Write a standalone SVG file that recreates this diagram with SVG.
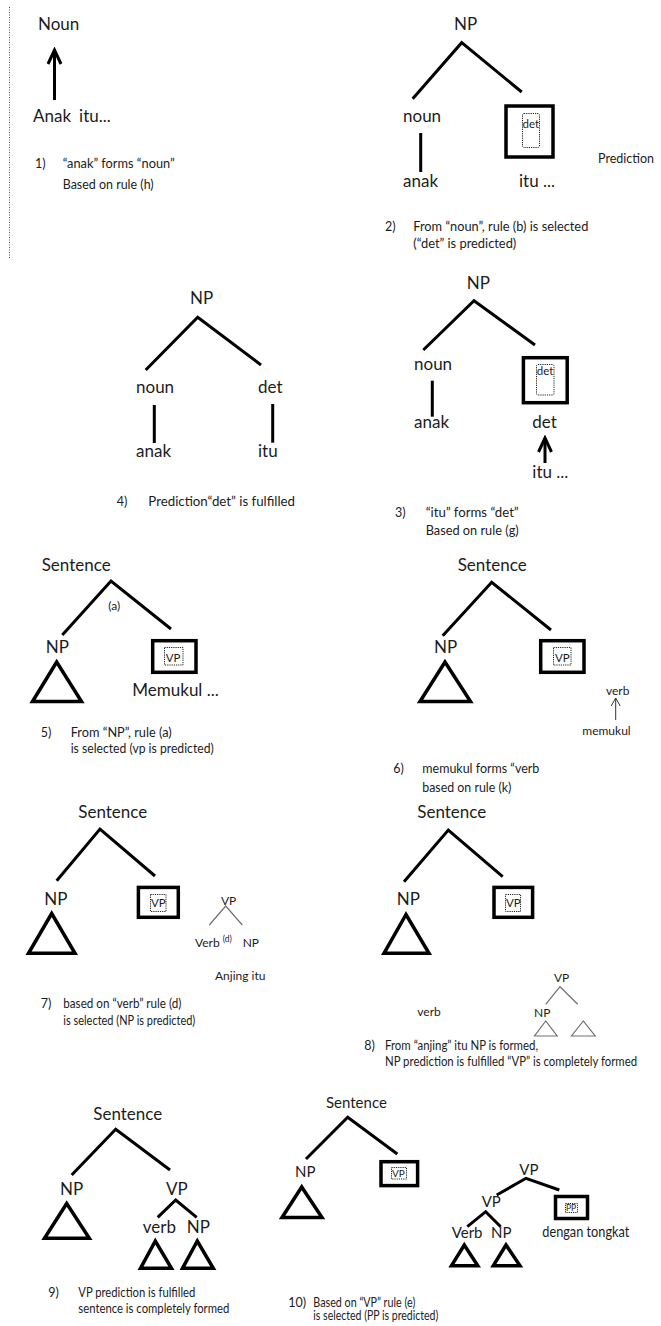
<svg xmlns="http://www.w3.org/2000/svg" width="661" height="1326" viewBox="0 0 661 1326">
  <style>
    text { font-family: Lato, "Open Sans", sans-serif; fill: #1c1c1c; }
    .t { font-size: 17px; }
    .m { font-size: 15px; }
    .s { font-size: 12px; }
    .c { font-size: 12.5px; }
    .in { font-size: 11.5px; }
    .br { fill: none; stroke: #000; stroke-width: 3; stroke-linejoin: miter; }
    .stem { fill: none; stroke: #000; stroke-width: 3; }
    .tri { fill: none; stroke: #000; stroke-width: 3.5; stroke-linejoin: miter; }
    .box { fill: #fff; stroke: #000; stroke-width: 3.5; }
    .dot { fill: none; stroke: #222; stroke-width: 1; stroke-dasharray: 1.2 1; }
    .thin { fill: none; stroke: #707070; stroke-width: 1.2; }
    .arrow { fill: none; stroke: #000; stroke-width: 3; marker-end: url(#head); }
    .arrow-s { fill: none; stroke: #333; stroke-width: 1; marker-end: url(#head-s); }
  </style>
  <defs>
    <marker id="head" markerUnits="userSpaceOnUse" viewBox="-17 -9 20 18" refX="0" refY="0" markerWidth="20" markerHeight="18" orient="auto">
      <path d="M-14,-6.5 L0,0 L-14,6.5" fill="none" stroke="#000" stroke-width="3"/>
    </marker>
    <marker id="head-s" markerUnits="userSpaceOnUse" viewBox="-10 -6 12 12" refX="0" refY="0" markerWidth="12" markerHeight="12" orient="auto">
      <path d="M-8,-4.5 L0,0 L-8,4.5" fill="none" stroke="#333" stroke-width="1"/>
    </marker>
  </defs>
  <rect width="661" height="1326" fill="#fff"/>

  <!-- page margin guide -->
  <line x1="9.5" y1="7" x2="9.5" y2="259" stroke="#555" stroke-width="1" stroke-dasharray="1 1.5"/>

  <!-- connectors: tree branches, stems and arrows -->
  <g id="connectors">
    <!-- step 1 -->
    <line class="arrow" x1="54.5" y1="100" x2="54.5" y2="50"/>
    <!-- step 2 -->
    <path class="br" d="M412.7,98.7 L461.7,42.7 L521.7,92"/>
    <line class="stem" x1="420.7" y1="133" x2="420.7" y2="172"/>
    <!-- step 4 -->
    <path class="br" d="M145.7,370 L197.7,317.3 L261,365"/>
    <line class="stem" x1="154.3" y1="405" x2="154.3" y2="443"/>
    <line class="stem" x1="272.7" y1="404" x2="272.7" y2="442.7"/>
    <!-- step 3 -->
    <path class="br" d="M423.3,350 L474,300.7 L535,345"/>
    <line class="stem" x1="432.3" y1="380.7" x2="432.3" y2="416.7"/>
    <line class="arrow" x1="545" y1="463" x2="545" y2="438"/>
    <!-- step 5 -->
    <path class="br" d="M62.3,635 L111,581 L171,629"/>
    <!-- step 6 -->
    <path class="br" d="M442.7,635.7 L491.7,582.3 L551,630"/>
    <line class="arrow-s" x1="615.7" y1="720" x2="615.7" y2="698"/>
    <!-- step 7 -->
    <path class="br" d="M56.7,880.7 L100,829 L155,876"/>
    <path class="thin" d="M209.3,925 L225.7,906 L242.3,925"/>
    <!-- step 8 -->
    <path class="br" d="M404,881.7 L448.3,830 L502.7,876.7"/>
    <path class="thin" d="M545.7,1004.3 L560,986.7 L577.7,1004.3"/>
    <!-- step 9 -->
    <path class="br" d="M71.7,1175 L115.7,1129.3 L170,1170"/>
    <path class="br" d="M157.7,1217.3 L175.7,1200 L196.7,1217.3"/>
    <!-- step 10 -->
    <path class="br" d="M306,1159 L347.7,1117.3 L397.3,1154"/>
    <path class="br" d="M496.7,1195 L526,1178.3 L559.3,1190"/>
    <path class="br" d="M467.3,1226.7 L485.7,1211.7 L500.7,1226.7"/>
  </g>

  <!-- step 1: word forms noun -->
  <g id="step1">
    <text class="t" x="38" y="30">Noun</text>
    <text class="t" x="33" y="122">Anak<tspan dx="8">itu...</tspan></text>
    <text class="c" x="35" y="168">1)</text>
    <text class="c" x="62.7" y="168" textLength="112" lengthAdjust="spacingAndGlyphs">“anak” forms “noun”</text>
    <text class="c" x="62.7" y="189" textLength="91" lengthAdjust="spacingAndGlyphs">Based on rule (h)</text>
  </g>

  <!-- step 2: det predicted -->
  <g id="step2">
    <text class="t" x="454" y="30">NP</text>
    <text class="t" x="403" y="121.7">noun</text>
    <text class="t" x="403" y="186.7">anak</text>
    <rect class="box" x="506" y="106" width="47" height="51"/>
    <rect class="dot" x="522.5" y="113.5" width="17" height="34" rx="1.5"/>
    <text class="in" x="522.5" y="127.5">det</text>
    <text class="t" x="519" y="186.7">itu ...</text>
    <text class="c" x="598" y="162.7" textLength="56" lengthAdjust="spacingAndGlyphs">Prediction</text>
    <text class="c" x="385" y="231">2)</text>
    <text class="c" x="413.3" y="231" textLength="175" lengthAdjust="spacingAndGlyphs">From “noun”, rule (b) is selected</text>
    <text class="c" x="413.3" y="248" textLength="103" lengthAdjust="spacingAndGlyphs">(“det” is predicted)</text>
  </g>

  <!-- step 4: det fulfilled -->
  <g id="step4">
    <text class="t" x="190" y="304">NP</text>
    <text class="t" x="136" y="393.3">noun</text>
    <text class="t" x="136" y="456.7">anak</text>
    <text class="t" x="258" y="393.3">det</text>
    <text class="t" x="258" y="456.7">itu</text>
    <text class="c" x="116.7" y="506">4)</text>
    <text class="c" x="148.3" y="506" textLength="146.7" lengthAdjust="spacingAndGlyphs">Prediction“det” is fulfilled</text>
  </g>

  <!-- step 3: itu forms det -->
  <g id="step3">
    <text class="t" x="466.7" y="289.3">NP</text>
    <text class="t" x="414" y="370">noun</text>
    <text class="t" x="414" y="428.3">anak</text>
    <rect class="box" x="523.4" y="357.7" width="43.8" height="45"/>
    <rect class="dot" x="536.5" y="364.5" width="17.5" height="30.5" rx="1.5"/>
    <text class="in" x="536.7" y="375">det</text>
    <text class="t" x="532.3" y="428.3">det</text>
    <text class="t" x="532.3" y="478.3">itu ...</text>
    <text class="c" x="395" y="516.7">3)</text>
    <text class="c" x="425.7" y="516.7" textLength="93" lengthAdjust="spacingAndGlyphs">“itu” forms “det”</text>
    <text class="c" x="425.7" y="535" textLength="93" lengthAdjust="spacingAndGlyphs">Based on rule (g)</text>
  </g>

  <!-- step 5: VP predicted -->
  <g id="step5">
    <text class="t" x="41.7" y="570.7">Sentence</text>
    <text class="s" x="108.3" y="610">(a)</text>
    <text class="t" x="45.7" y="652.7">NP</text>
    <path class="tri" d="M56.7,662 L32.5,701.5 L81.5,701.5 Z"/>
    <rect class="box" x="152.7" y="640.7" width="43.3" height="31.6"/>
    <rect class="dot" x="164.5" y="647.5" width="18.5" height="17.5"/>
    <text class="in" x="165.7" y="661.7">VP</text>
    <text class="t" x="132.3" y="696">Memukul ...</text>
    <text class="c" x="40.7" y="736.7">5)</text>
    <text class="c" x="70.7" y="736.7" textLength="101" lengthAdjust="spacingAndGlyphs">From “NP”, rule (a)</text>
    <text class="c" x="70.7" y="753.3" textLength="143" lengthAdjust="spacingAndGlyphs">is selected (vp is predicted)</text>
  </g>

  <!-- step 6: memukul forms verb -->
  <g id="step6">
    <text class="t" x="457.7" y="571">Sentence</text>
    <text class="t" x="434" y="652.7">NP</text>
    <path class="tri" d="M445,662 L420,701.5 L470.5,701.5 Z"/>
    <rect class="box" x="540.7" y="640.7" width="43.3" height="31.6"/>
    <rect class="dot" x="553.5" y="647.5" width="17.5" height="17.5"/>
    <text class="in" x="555" y="661.7">VP</text>
    <text class="s" x="606" y="695">verb</text>
    <text class="s" x="582.3" y="735">memukul</text>
    <text class="c" x="393.3" y="773.3">6)</text>
    <text class="c" x="422.3" y="773.3" textLength="117" lengthAdjust="spacingAndGlyphs">memukul forms “verb</text>
    <text class="c" x="422.3" y="791.7" textLength="89" lengthAdjust="spacingAndGlyphs">based on rule (k)</text>
  </g>

  <!-- step 7: NP predicted -->
  <g id="step7">
    <text class="t" x="78.3" y="818.3">Sentence</text>
    <text class="t" x="44.3" y="905">NP</text>
    <path class="tri" d="M51.7,913.5 L28.5,953.3 L75,953.3 Z"/>
    <rect class="box" x="138.4" y="887.4" width="39.9" height="29.9"/>
    <rect class="dot" x="150.5" y="894.5" width="15.5" height="17"/>
    <text class="in" x="151" y="907">VP</text>
    <text class="s" x="221" y="905">VP</text>
    <text class="s" x="195" y="947.3">Verb</text>
    <text x="222.7" y="941.7" font-size="8.5">(d)</text>
    <text class="s" x="242.7" y="947.3">NP</text>
    <text class="s" x="215" y="980">Anjing itu</text>
    <text class="c" x="40.7" y="1008.3">7)</text>
    <text class="c" x="63.3" y="1008.3" textLength="118" lengthAdjust="spacingAndGlyphs">based on “verb” rule (d)</text>
    <text class="c" x="63.3" y="1025" textLength="132" lengthAdjust="spacingAndGlyphs">is selected (NP is predicted)</text>
  </g>

  <!-- step 8: VP formed -->
  <g id="step8">
    <text class="t" x="417.3" y="818.3">Sentence</text>
    <text class="t" x="396.7" y="905">NP</text>
    <path class="tri" d="M406,914.5 L384,953.3 L429,953.3 Z"/>
    <rect class="box" x="494" y="887.4" width="38.6" height="29.9"/>
    <rect class="dot" x="505.5" y="894.5" width="15" height="17"/>
    <text class="in" x="506" y="907">VP</text>
    <text class="s" x="554" y="981.7">VP</text>
    <text class="s" x="534" y="1016.7">NP</text>
    <path class="thin" d="M545.7,1021 L534.5,1036 L557.2,1036 Z"/>
    <path class="thin" d="M583.3,1021 L571.5,1036 L595.2,1036 Z"/>
    <text class="s" x="417.3" y="1016">verb</text>
    <text class="c" x="364.3" y="1050">8)</text>
    <text class="c" x="385" y="1050" textLength="153" lengthAdjust="spacingAndGlyphs">From “anjing” itu NP is formed,</text>
    <text class="c" x="385" y="1066" textLength="252" lengthAdjust="spacingAndGlyphs">NP prediction is fulfilled  “VP” is completely formed</text>
  </g>

  <!-- step 9: sentence complete -->
  <g id="step9">
    <text class="t" x="93.3" y="1120">Sentence</text>
    <text class="t" x="60" y="1195">NP</text>
    <path class="tri" d="M66.7,1203.5 L44.5,1238.3 L89.3,1238.3 Z"/>
    <text class="t" x="166" y="1195">VP</text>
    <text class="t" x="142.7" y="1233.3">verb</text>
    <text class="t" x="186.7" y="1233.3">NP</text>
    <path class="tri" d="M155.3,1241 L140.5,1268.3 L171.5,1268.3 Z"/>
    <path class="tri" d="M197.3,1241 L182.5,1268.3 L213.3,1268.3 Z"/>
    <text class="c" x="48.3" y="1296.7">9)</text>
    <text class="c" x="78.3" y="1296.7" textLength="117" lengthAdjust="spacingAndGlyphs">VP prediction is fulfilled</text>
    <text class="c" x="78.3" y="1313.3" textLength="151" lengthAdjust="spacingAndGlyphs">sentence is completely formed</text>
  </g>

  <!-- step 10: PP predicted -->
  <g id="step10">
    <text class="m" x="326" y="1108.3">Sentence</text>
    <text class="m" x="295" y="1177.3">NP</text>
    <path class="tri" d="M301.7,1187 L282,1217.5 L322,1217.5 Z"/>
    <rect class="box" x="381" y="1161.7" width="36.6" height="23.9"/>
    <rect class="dot" x="391.5" y="1167.5" width="15" height="11.5"/>
    <text x="392" y="1177" font-size="10">VP</text>
    <text class="m" x="519.3" y="1175">VP</text>
    <text class="m" x="481.7" y="1206.7">VP</text>
    <text class="m" x="451.7" y="1237.7">Verb</text>
    <text class="m" x="491" y="1237.7">NP</text>
    <path class="tri" d="M464.3,1245 L451.5,1265.7 L477.8,1265.7 Z"/>
    <path class="tri" d="M506,1245 L493.3,1265.7 L520,1265.7 Z"/>
    <rect class="box" x="555.5" y="1196.5" width="32" height="22"/>
    <rect class="dot" x="565.5" y="1203.5" width="12" height="9"/>
    <text x="566" y="1211" font-size="8.5">PP</text>
    <text class="m" x="542.3" y="1237.3" textLength="87" lengthAdjust="spacingAndGlyphs">dengan tongkat</text>
    <text class="c" x="288.3" y="1306.7">10)</text>
    <text class="c" x="313.3" y="1306.7" textLength="102" lengthAdjust="spacingAndGlyphs">Based on “VP” rule (e)</text>
    <text class="c" x="313.3" y="1320" textLength="125" lengthAdjust="spacingAndGlyphs">is selected (PP is predicted)</text>
  </g>
</svg>
